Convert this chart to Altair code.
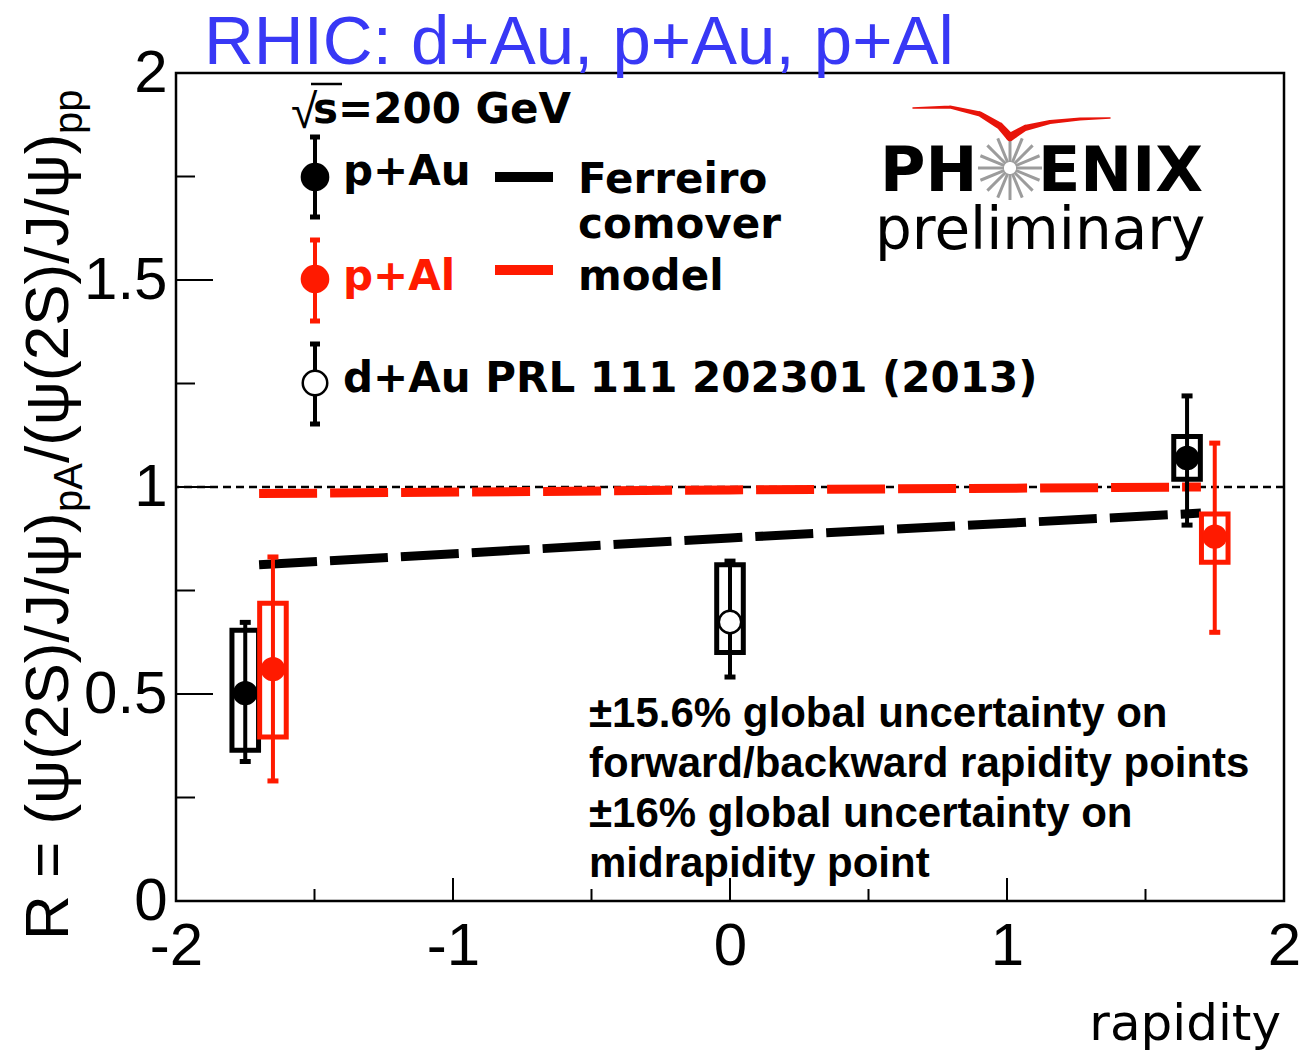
import math
import altair as alt
import pandas as pd

# ---------------- measured values ----------------
# p+Au (filled black): rapidity, R, statistical and systematic ranges
pau_rap = [-1.75, 1.65]
pau_val = [0.502, 1.070]
pau_stat_lo = [0.337, 0.908]
pau_stat_hi = [0.673, 1.220]
pau_sys_lo = [0.364, 1.019]
pau_sys_hi = [0.654, 1.122]

# p+Al (filled red)
pal_rap = [-1.65, 1.75]
pal_val = [0.560, 0.880]
pal_stat_lo = [0.290, 0.649]
pal_stat_hi = [0.831, 1.106]
pal_sys_lo = [0.396, 0.818]
pal_sys_hi = [0.719, 0.935]

# d+Au PRL 111 202301 (open black)
dau_rap = [0.0]
dau_val = [0.674]
dau_stat_lo = [0.541]
dau_stat_hi = [0.821]
dau_sys_lo = [0.600]
dau_sys_hi = [0.812]

# Ferreiro comover model curves
model_rap = [-1.7, 0.0, 1.7]
model_pau = [0.812, 0.877, 0.937]
model_pal = [0.984, 0.993, 1.000]

# axis ticks
x_major = [-2, -1, 0, 1, 2]
x_minor = [-1.5, -0.5, 0.5, 1.5]
y_major = [0, 0.5, 1, 1.5, 2]
y_minor = [0.25, 0.75, 1.25, 1.75]

# texts
title_text = "RHIC: d+Au, p+Au, p+Al"
energy_text = "s=200 GeV"
legend_labels = ["p+Au", "p+Al", "d+Au PRL 111 202301 (2013)"]
model_lines = ["Ferreiro", "comover", "model"]
note_lines = [
    "\u00b115.6% global uncertainty on",
    "forward/backward rapidity points",
    "\u00b116% global uncertainty on",
    "midrapidity point",
]
ytitle_parts = ["R = (\u03c8(2S)/J/\u03c8)", "pA", "/(\u03c8(2S)/J/\u03c8)", "pp"]
xtitle_text = "rapidity"

# ---------------- layout ----------------
W, H = 1108, 828          # plot area
OX, OY = 176, 73          # plot origin inside the page
RED = "#ff1a00"
BLUE = "#3838f5"
SANS = "Liberation Sans"
BOX_HALF = 0.048

ONE = pd.DataFrame({"k": [0]})

xs = alt.Scale(domain=[-2, 2], nice=False, zero=False)
ys = alt.Scale(domain=[0, 2], nice=False, zero=False)
axis_common = dict(
    title=None, domain=False, ticks=False, tickSize=0, grid=False,
    labelFont=SANS, labelFontSize=60, labelColor="black",
    labelOverlap=False, labelFlush=False, labelBound=False,
    labelExpr="toString(datum.value)",
)
xax = alt.Axis(values=x_major, labelPadding=16, **axis_common)
yax = alt.Axis(values=y_major, labelPadding=9, **axis_common)


def X(f):
    return alt.X(f, type="quantitative", scale=xs, axis=xax)


def Y(f):
    return alt.Y(f, type="quantitative", scale=ys, axis=yax)


def px_text(text, x, y, size, font=SANS, weight="normal", color="black",
            align="left", angle=0):
    return alt.Chart(ONE).mark_text(
        text=text, font=font, fontSize=size, fontWeight=weight, color=color,
        align=align, baseline="alphabetic", angle=angle,
    ).encode(x=alt.value(x - OX), y=alt.value(y - OY))


def px_rule(x1, y1, x2, y2, color="black", width=2, dash=None):
    kw = dict(color=color, strokeWidth=width)
    if dash:
        kw["strokeDash"] = dash
    return alt.Chart(ONE).mark_rule(**kw).encode(
        x=alt.value(x1 - OX), x2=alt.value(x2 - OX),
        y=alt.value(y1 - OY), y2=alt.value(y2 - OY),
    )


def px_point(x, y, size, color, open_marker=False):
    if open_marker:
        mk = alt.Chart(ONE).mark_point(shape="circle", filled=True, fill="white",
                                       stroke=color, strokeWidth=2.5, size=size, opacity=1)
    else:
        mk = alt.Chart(ONE).mark_point(shape="circle", filled=True, color=color,
                                       size=size, opacity=1)
    return mk.encode(x=alt.value(x - OX), y=alt.value(y - OY))


def system(rap, val, slo, shi, tlo, thi, color, open_marker=False):
    df = pd.DataFrame(dict(rap=rap, val=val, slo=slo, shi=shi, tlo=tlo, thi=thi))
    base = alt.Chart(df).transform_calculate(
        bl=f"datum.rap - {BOX_HALF}", br=f"datum.rap + {BOX_HALF}")
    box = base.mark_rect(color=color, fillOpacity=0, stroke=color, strokeWidth=5).encode(
        x=X("bl"), x2="br", y=Y("slo"), y2="shi")
    stat = base.mark_rule(color=color, strokeWidth=4).encode(
        x=X("rap"), y=Y("tlo"), y2="thi")
    cap_lo = base.mark_tick(orient="horizontal", color=color, size=11, thickness=5,
                            opacity=1).encode(x=X("rap"), y=Y("tlo"))
    cap_hi = base.mark_tick(orient="horizontal", color=color, size=11, thickness=5,
                            opacity=1).encode(x=X("rap"), y=Y("thi"))
    if open_marker:
        mk = base.mark_point(shape="circle", filled=True, fill="white", stroke=color,
                             strokeWidth=2.5, size=500, opacity=1)
    else:
        mk = base.mark_point(shape="circle", filled=True, color=color, size=600, opacity=1)
    marker = mk.encode(x=X("rap"), y=Y("val"))
    return [box, stat, cap_lo, cap_hi, marker]


layers = []

# reference line at R = 1
layers.append(
    alt.Chart(pd.DataFrame({"one": [1.0]}))
    .mark_rule(color="black", strokeWidth=2.5, strokeDash=[8, 5])
    .encode(y=Y("one"))
)

# comover model curves
mdf = pd.DataFrame({"rap": model_rap, "pau": model_pau, "pal": model_pal})
layers.append(alt.Chart(mdf).mark_line(color=RED, strokeWidth=9, strokeDash=[58, 13])
              .encode(x=X("rap"), y=Y("pal")))
layers.append(alt.Chart(mdf).mark_line(color="black", strokeWidth=9, strokeDash=[58, 13])
              .encode(x=X("rap"), y=Y("pau")))

# data points
layers += system(pau_rap, pau_val, pau_sys_lo, pau_sys_hi, pau_stat_lo, pau_stat_hi, "black")
layers += system(pal_rap, pal_val, pal_sys_lo, pal_sys_hi, pal_stat_lo, pal_stat_hi, RED)
layers += system(dau_rap, dau_val, dau_sys_lo, dau_sys_hi, dau_stat_lo, dau_stat_hi,
                 "black", open_marker=True)

# inward ticks
layers.append(alt.Chart(pd.DataFrame({"v": y_major})).mark_rule(color="black", strokeWidth=2)
              .encode(y=Y("v"), x=alt.value(0), x2=alt.value(37)))
layers.append(alt.Chart(pd.DataFrame({"v": y_minor})).mark_rule(color="black", strokeWidth=2)
              .encode(y=Y("v"), x=alt.value(0), x2=alt.value(19)))
layers.append(alt.Chart(pd.DataFrame({"v": x_major})).mark_rule(color="black", strokeWidth=2)
              .encode(x=X("v"), y=alt.value(H), y2=alt.value(H - 23)))
layers.append(alt.Chart(pd.DataFrame({"v": x_minor})).mark_rule(color="black", strokeWidth=2)
              .encode(x=X("v"), y=alt.value(H), y2=alt.value(H - 12)))

# ---------------- legend ----------------
LEG_FONT = "DejaVu Sans"
layers.append(px_text("\u221a", 291, 128, 48))
layers.append(px_rule(311, 84, 342, 84, width=2.5))
layers.append(px_text(energy_text, 313, 123, 42, font=LEG_FONT, weight="bold"))

leg_rows = [
    # (marker y, cap top, cap bottom, text baseline, colour, open)
    (177, 135, 219, 185, "black", False),
    (279, 238, 323, 290, RED, False),
    (383, 342, 426, 392, "black", True),
]
for label, (my, ct, cb, tb, col, op) in zip(legend_labels, leg_rows):
    layers.append(px_rule(315, ct, 315, cb, color=col, width=4))
    layers.append(px_rule(310, ct + 2, 320, ct + 2, color=col, width=5))
    layers.append(px_rule(310, cb - 2, 320, cb - 2, color=col, width=5))
    layers.append(px_point(315, my, 820 if not op else 600, col, open_marker=op))
    layers.append(px_text(label, 343, tb, 42, font=LEG_FONT, weight="bold", color=col))

layers.append(px_rule(495, 177, 553, 177, color="black", width=10))
layers.append(px_rule(495, 270, 553, 270, color=RED, width=10))
for line, base in zip(model_lines, [193, 238, 290]):
    layers.append(px_text(line, 578, base, 42, font=LEG_FONT, weight="bold"))

# ---------------- PHENIX preliminary mark ----------------
layers.append(px_text("PH", 880, 191, 62, font="DejaVu Sans", weight="bold"))
layers.append(px_text("ENIX", 1038, 191, 62, font="DejaVu Sans", weight="bold"))
cx, cy = 1010 - OX, 168 - OY
spokes = pd.DataFrame({"a": [i * 22.5 for i in range(16)]})
layers.append(
    alt.Chart(spokes)
    .transform_calculate(
        x1=f"{cx} + 6 * cos(datum.a * PI / 180)",
        y1=f"{cy} + 6 * sin(datum.a * PI / 180)",
        x2=f"{cx} + 32 * cos(datum.a * PI / 180)",
        y2=f"{cy} + 32 * sin(datum.a * PI / 180)",
    )
    .mark_rule(color="#9c9c9c", strokeWidth=3)
    .encode(x=alt.X("x1:Q", scale=None), x2="x2:Q",
            y=alt.Y("y1:Q", scale=None), y2="y2:Q")
)
swoosh = pd.DataFrame({
    "wing": ["l"] * 5 + ["r"] * 5,
    "i": list(range(10)),
    "px": [913, 950, 980, 1000, 1010, 1010, 1025, 1050, 1080, 1110],
    "py": [108, 107, 114, 126, 137, 137, 128, 122, 119, 118],
    "w": [1.5, 3, 5, 7, 8, 8, 6, 4, 3, 1.5],
})
swoosh["px"] -= OX
swoosh["py"] -= OY
layers.append(
    alt.Chart(swoosh).mark_trail(color="#e8140a")
    .encode(x=alt.X("px:Q", scale=None), y=alt.Y("py:Q", scale=None),
            size=alt.Size("w:Q", scale=None), detail="wing:N", order="i:Q")
)
layers.append(px_text("preliminary", 875, 249, 58, font="DejaVu Sans"))

# ---------------- notes ----------------
for line, base in zip(note_lines, [727, 777, 827, 877]):
    layers.append(px_text(line, 589, base, 42, weight="bold"))

# ---------------- titles ----------------
layers.append(px_text(title_text, 204, 64, 69, color=BLUE))
layers.append(px_text(xtitle_text, 1281, 1040, 50, font="DejaVu Sans", align="right"))

# y title assembled from pieces with subscripts, reading upward
y0 = 940
layers.append(px_text(ytitle_parts[0], 68, y0, 62, angle=270))
y1 = y0 - 428
layers.append(px_text(ytitle_parts[1], 82, y1, 40, angle=270))
y2 = y1 - 49
layers.append(px_text(ytitle_parts[2], 68, y2, 62, angle=270))
y3 = y2 - 329
layers.append(px_text(ytitle_parts[3], 82, y3, 40, angle=270))

chart = (
    alt.layer(*layers)
    .properties(
        width=W, height=H,
        padding={"left": OX, "top": OY, "right": 1301 - OX - W, "bottom": 1058 - OY - H},
        autosize=alt.AutoSizeParams(type="none"),
    )
    .configure(background="white")
    .configure_view(stroke="black", strokeWidth=2.5)
)

chart.save("out.html", embed_options={"renderer": "svg", "actions": False})
